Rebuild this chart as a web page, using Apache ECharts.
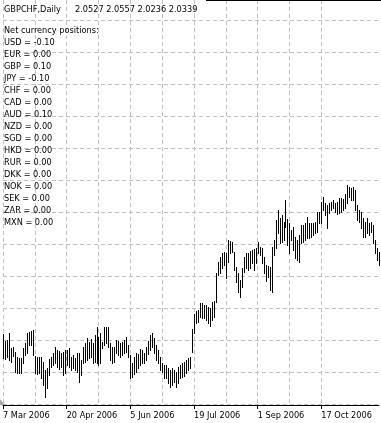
<!DOCTYPE html>
<html>
<head>
<meta charset="utf-8">
<script src="https://cdn.jsdelivr.net/npm/echarts@6/dist/echarts.min.js"></script>
<style>
html,body{margin:0;padding:0;background:#fff;}
#chart{width:381px;height:423px;}
</style>
</head>
<body>
<div id="chart"></div>
<script>
// ---- data ----
const symbolTitle = 'GBPCHF,Daily';
const lastBarOHLC = [2.0527, 2.0557, 2.0236, 2.0339];
const positionsHeader = 'Net currency positions:';
const currencies = ['USD','EUR','GBP','JPY','CHF','CAD','AUD','NZD','SGD','HKD','RUR','DKK','NOK','SEK','ZAR','MXN'];
const positions = [-0.10, 0.00, 0.10, -0.10, 0.00, 0.00, 0.10, 0.00, 0.00, 0.00, 0.00, 0.00, 0.00, 0.00, 0.00, 0.00];
const startDate = '2006-03-07'; // first bar; one bar per weekday
const tickLabels = ['7 Mar 2006','20 Apr 2006','5 Jun 2006','19 Jul 2006','1 Sep 2006','17 Oct 2006'];

const highs = [
  1.990,1.983,1.984,1.991,1.976,1.977,1.972,1.967,1.966,1.966,1.976,1.981,1.991,1.992,1.993,1.994,
  1.968,1.967,1.967,1.967,1.962,1.954,1.956,1.965,1.967,1.971,1.977,1.974,1.973,1.971,1.972,1.974,
  1.974,1.976,1.967,1.969,1.966,1.971,1.971,1.964,1.977,1.981,1.986,1.982,1.985,1.981,1.989,1.997,
  1.987,1.991,1.982,1.997,1.997,1.997,1.981,1.977,1.977,1.984,1.983,1.981,1.982,1.984,1.987,1.979,
  1.969,1.961,1.967,1.971,1.970,1.975,1.974,1.971,1.977,1.983,1.989,1.991,1.986,1.979,1.974,1.967,
  1.961,1.959,1.959,1.956,1.954,1.956,1.954,1.952,1.957,1.959,1.961,1.962,1.964,1.966,1.967,1.995,
  2.010,2.013,2.014,2.021,2.021,2.019,2.019,2.017,2.016,2.022,2.023,2.051,2.062,2.067,2.071,2.072,
  2.071,2.084,2.083,2.082,2.072,2.057,2.051,2.044,2.056,2.067,2.071,2.071,2.073,2.074,2.075,2.076,
  2.082,2.077,2.076,2.067,2.059,2.058,2.057,2.077,2.084,2.104,2.114,2.106,2.109,2.102,2.124,2.105,
  2.101,2.094,2.097,2.087,2.084,2.089,2.099,2.099,2.101,2.107,2.101,2.101,2.101,2.102,2.112,2.112,
  2.122,2.127,2.121,2.119,2.121,2.122,2.124,2.121,2.122,2.126,2.126,2.125,2.130,2.139,2.137,2.136,
  2.137,2.134,2.119,2.114,2.112,2.106,2.102,2.106,2.101,2.102,2.099,2.084,2.076,2.072
];
const lows = [
  1.966,1.965,1.967,1.964,1.962,1.968,1.952,1.951,1.951,1.951,1.961,1.969,1.971,1.979,1.979,1.969,
  1.951,1.950,1.951,1.946,1.939,1.927,1.936,1.949,1.957,1.959,1.961,1.957,1.955,1.957,1.949,1.951,
  1.959,1.957,1.954,1.956,1.954,1.952,1.942,1.949,1.961,1.962,1.964,1.966,1.967,1.961,1.962,1.961,
  1.959,1.961,1.976,1.979,1.981,1.977,1.964,1.961,1.962,1.971,1.969,1.967,1.969,1.971,1.972,1.967,
  1.946,1.947,1.950,1.952,1.956,1.959,1.961,1.961,1.964,1.970,1.974,1.977,1.971,1.964,1.961,1.954,
  1.952,1.946,1.946,1.941,1.937,1.939,1.942,1.937,1.941,1.946,1.947,1.948,1.951,1.954,1.956,1.972,
  1.991,2.001,2.002,2.007,2.006,2.006,2.004,2.001,1.998,2.004,2.007,2.022,2.049,2.051,2.056,2.059,
  2.046,2.062,2.071,2.072,2.054,2.042,2.032,2.027,2.037,2.052,2.056,2.054,2.056,2.061,2.054,2.061,
  2.071,2.069,2.061,2.051,2.043,2.047,2.034,2.032,2.069,2.076,2.091,2.081,2.082,2.084,2.097,2.079,
  2.071,2.084,2.074,2.066,2.064,2.062,2.081,2.082,2.084,2.086,2.086,2.087,2.089,2.091,2.092,2.101,
  2.101,2.114,2.109,2.096,2.111,2.114,2.116,2.112,2.110,2.111,2.112,2.114,2.116,2.121,2.127,2.124,
  2.124,2.114,2.104,2.102,2.096,2.087,2.087,2.091,2.089,2.092,2.081,2.071,2.064,2.059
];

// ---- categories: trading weekdays starting at startDate ----
const MONTHS = ['Jan','Feb','Mar','Apr','May','Jun','Jul','Aug','Sep','Oct','Nov','Dec'];
const categories = [];
let day = new Date(startDate + 'T00:00:00Z');
while (categories.length < highs.length) {
  const wd = day.getUTCDay();
  if (wd !== 0 && wd !== 6) {
    categories.push(day.getUTCDate() + ' ' + MONTHS[day.getUTCMonth()] + ' ' + day.getUTCFullYear());
  }
  day = new Date(day.getTime() + 86400000);
}

const FONT = '8.2px "DejaVu Sans"';
const GRID_COLOR = '#c0c0c0';
const GRID_DASH = [4, 3];

const chart = echarts.init(document.getElementById('chart'), null, {renderer: 'canvas'});

const textEls = [];
textEls.push({type: 'text', z: 100, x: 4, y: 9.5, style: {text: symbolTitle, font: FONT, fill: '#000', verticalAlign: 'middle'}});
textEls.push({type: 'text', z: 100, x: 75, y: 9.5, style: {text: lastBarOHLC.map(v => v.toFixed(4)).join(' '), font: FONT, fill: '#000', verticalAlign: 'middle'}});
textEls.push({type: 'text', z: 100, x: 4, y: 31, style: {text: positionsHeader, font: FONT, fill: '#000', verticalAlign: 'middle'}});
currencies.forEach((c, k) => {
  textEls.push({type: 'text', z: 100, x: 4, y: 43 + 12 * k, style: {text: c + ' = ' + positions[k].toFixed(2), font: FONT, fill: '#000', verticalAlign: 'middle'}});
});
// window frame pieces
textEls.push({type: 'rect', z: 100, shape: {x: 206, y: 0, width: 175, height: 1}, style: {fill: '#000'}});
textEls.push({type: 'polygon', z: 100, shape: {points: [[0, 399], [0, 405], [5, 405]]}, style: {fill: '#a8a8a8'}});

chart.setOption({
  animation: false,
  backgroundColor: '#fff',
  grid: {left: 1, top: 0, width: 378, height: 404, containLabel: false},
  xAxis: {
    type: 'category',
    data: categories,
    boundaryGap: false,
    offset: 1,
    axisLine: {show: true, lineStyle: {color: '#000', width: 1}},
    axisTick: {show: true, interval: 31, length: 4, lineStyle: {color: '#000'}},
    axisLabel: {
      show: true, interval: 31, align: 'left', verticalAlign: 'middle', margin: 11,
      fontFamily: 'DejaVu Sans', fontSize: 8.2, color: '#000',
      formatter: v => (tickLabels.indexOf(v) >= 0 ? v : '')
    },
    splitLine: {show: true, interval: 15, showMaxLine: false, lineStyle: {color: GRID_COLOR, type: GRID_DASH, width: 1}}
  },
  yAxis: {
    type: 'value',
    min: 1.92, max: 2.324, interval: 0.032,
    axisLine: {show: false}, axisTick: {show: false}, axisLabel: {show: false},
    splitLine: {show: true, showMaxLine: false, lineStyle: {color: GRID_COLOR, type: GRID_DASH, width: 1}}
  },
  series: [{
    type: 'custom',
    data: categories.map((c, i) => [i, lows[i], highs[i]]),
    encode: {x: 0, y: [1, 2]},
    clip: false,
    renderItem: function (params, api) {
      const hi = api.coord([api.value(0), api.value(2)]);
      const lo = api.coord([api.value(0), api.value(1)]);
      const x = Math.round(hi[0]);
      const yTop = Math.round(hi[1]);
      const yBot = Math.round(lo[1]);
      return {
        type: 'rect',
        shape: {x: x, y: yTop, width: 1, height: yBot - yTop + 1},
        style: {fill: '#000'}
      };
    }
  }],
  graphic: textEls
});
</script>
</body>
</html>
